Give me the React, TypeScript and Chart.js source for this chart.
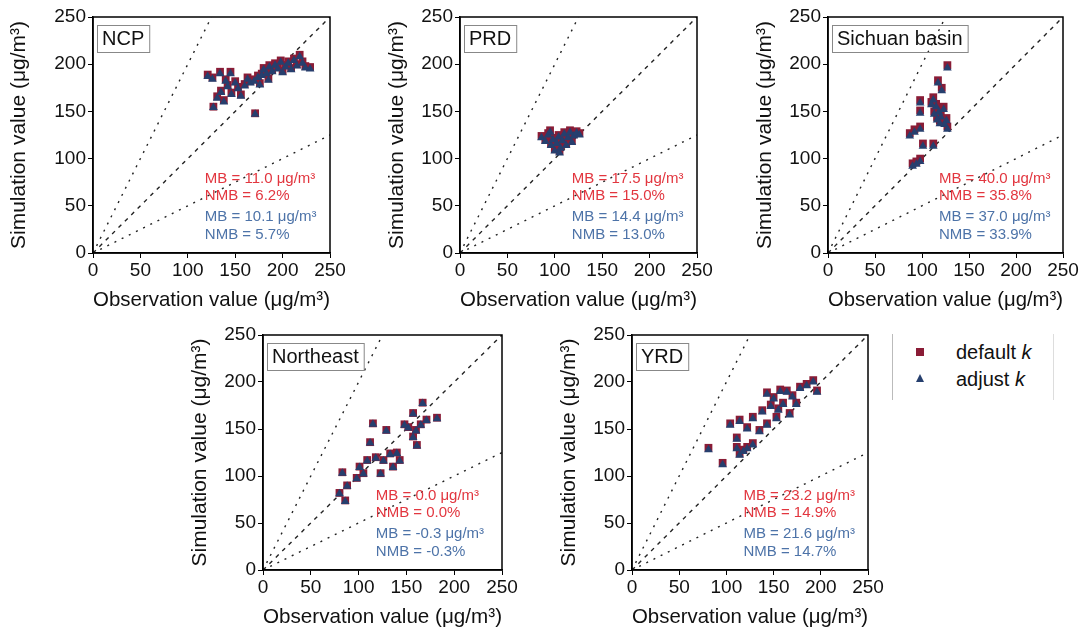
import React, { useEffect, useRef } from "react";
import { Chart, registerables } from "chart.js";

Chart.register(...registerables);

const FONT = '"Liberation Sans", Arial, Helvetica, sans-serif';
const AXIS_MIN = 0;
const AXIS_MAX = 250;
const AXIS_STEP = 50;
const X_TITLE = "Observation value (\u03bcg/m\u00b3)";
const Y_TITLE = "Simulation value (\u03bcg/m\u00b3)";
const SERIES_NAMES = ["default k", "adjust k"];
const DEFAULT_COLOR = "#8a1c36";
const ADJUST_COLOR = "#263f6e";
const STAT_RED = "#e2363f";
const STAT_BLUE = "#4d73a8";

// reference lines (y = x, y = 2x, y = 0.5x)
const LINE_1_1 = [{ x: 0, y: 0 }, { x: 250, y: 250 }];
const LINE_2_1 = [{ x: 0, y: 0 }, { x: 125, y: 250 }];
const LINE_1_2 = [{ x: 0, y: 0 }, { x: 250, y: 125 }];

// stats text anchor (data units)
const STAT_X = 118;
const STAT_Y = [79, 61, 38, 19];

// ---------- NCP ----------
const NCP_OBS = [121, 126, 134, 140, 145, 127, 131, 135, 138, 142, 146, 150, 153, 156, 160, 163, 166, 171, 170, 174, 178, 180, 183, 186, 189, 192, 195, 198, 200, 203, 206, 209, 212, 215, 218, 221, 224, 229, 176, 185];
const NCP_DEFAULT = [189, 186, 192, 184, 192, 155, 166, 172, 162, 178, 170, 182, 176, 168, 179, 186, 182, 148, 184, 188, 190, 196, 192, 199, 194, 201, 197, 204, 193, 199, 203, 196, 206, 200, 210, 203, 198, 197, 180, 185];
const NCP_ADJUST = [187, 184, 190, 182, 190, 154, 164, 170, 160, 176, 168, 180, 174, 166, 177, 184, 180, 147, 182, 186, 188, 194, 190, 197, 192, 199, 195, 202, 191, 197, 201, 194, 204, 198, 208, 201, 196, 195, 178, 183];
const NCP_STATS = ["MB = 11.0 \u03bcg/m\u00b3", "NMB = 6.2%", "MB = 10.1 \u03bcg/m\u00b3", "NMB = 5.7%"];

// ---------- PRD ----------
const PRD_OBS = [86, 90, 93, 96, 98, 100, 102, 104, 106, 108, 110, 112, 114, 116, 118, 120, 123, 126, 95, 105];
const PRD_DEFAULT = [124, 120, 127, 116, 122, 110, 118, 125, 113, 121, 128, 116, 124, 130, 119, 126, 129, 127, 130, 108];
const PRD_ADJUST = [122, 118, 125, 114, 120, 108, 116, 123, 111, 119, 126, 114, 122, 128, 117, 124, 127, 125, 128, 106];
const PRD_STATS = ["MB = 17.5 \u03bcg/m\u00b3", "NMB = 15.0%", "MB = 14.4 \u03bcg/m\u00b3", "NMB = 13.0%"];

// ---------- Sichuan basin ----------
const SCB_OBS = [127, 117, 121, 98, 112, 115, 118, 120, 113, 116, 123, 126, 124, 98, 87, 92, 98, 127, 112, 101, 90, 94, 98, 110, 119];
const SCB_DEFAULT = [199, 183, 175, 162, 165, 158, 152, 147, 150, 144, 155, 143, 139, 151, 127, 131, 134, 134, 116, 116, 95, 97, 100, 160, 140];
const SCB_ADJUST = [196, 180, 172, 159, 162, 155, 149, 144, 147, 141, 152, 140, 136, 148, 124, 128, 131, 131, 113, 113, 92, 94, 97, 157, 137];
const SCB_STATS = ["MB = 40.0 \u03bcg/m\u00b3", "NMB = 35.8%", "MB = 37.0 \u03bcg/m\u00b3", "NMB = 33.9%"];

// ---------- Northeast ----------
const NE_OBS = [167, 157, 182, 171, 152, 160, 157, 161, 115, 129, 112, 133, 126, 143, 136, 109, 101, 105, 98, 123, 83, 88, 80, 86, 148, 165, 140, 118];
const NE_DEFAULT = [178, 167, 162, 160, 152, 149, 142, 133, 156, 149, 136, 124, 117, 117, 110, 117, 110, 103, 98, 103, 104, 90, 82, 74, 155, 155, 125, 120];
const NE_ADJUST = [177, 166, 161, 159, 151, 148, 141, 132, 155, 148, 135, 123, 116, 116, 109, 116, 109, 102, 97, 102, 103, 89, 81, 73, 154, 154, 124, 119];
const NE_STATS = ["MB = 0.0 \u03bcg/m\u00b3", "NMB = 0.0%", "MB = -0.3 \u03bcg/m\u00b3", "NMB = -0.3%"];

// ---------- YRD ----------
const YRD_OBS = [192, 196, 178, 164, 143, 150, 160, 174, 167, 153, 143, 128, 114, 104, 122, 135, 111, 111, 122, 114, 128, 81, 96, 185, 170, 157, 147, 138, 118, 155];
const YRD_DEFAULT = [202, 191, 195, 191, 189, 184, 178, 178, 167, 163, 156, 163, 160, 156, 152, 149, 141, 131, 131, 124, 135, 130, 114, 198, 186, 192, 176, 170, 128, 172];
const YRD_ADJUST = [200, 189, 193, 189, 187, 182, 176, 176, 165, 161, 154, 161, 158, 154, 150, 147, 139, 129, 129, 122, 133, 128, 112, 196, 184, 190, 174, 168, 126, 170];
const YRD_STATS = ["MB = 23.2 \u03bcg/m\u00b3", "NMB = 14.9%", "MB = 21.6 \u03bcg/m\u00b3", "NMB = 14.7%"];

type Panel = {
  label: string;
  obs: number[];
  def: number[];
  adj: number[];
  stats: string[];
  plotLeft: number;
  plotTop: number;
  plotW: number;
  plotH: number;
  yAxisW: number;
};

const PANELS: Panel[] = [
  { label: "NCP", obs: NCP_OBS, def: NCP_DEFAULT, adj: NCP_ADJUST, stats: NCP_STATS, plotLeft: 93, plotTop: 17, plotW: 237, plotH: 236, yAxisW: 90 },
  { label: "PRD", obs: PRD_OBS, def: PRD_DEFAULT, adj: PRD_ADJUST, stats: PRD_STATS, plotLeft: 460, plotTop: 17, plotW: 237, plotH: 236, yAxisW: 79 },
  { label: "Sichuan basin", obs: SCB_OBS, def: SCB_DEFAULT, adj: SCB_ADJUST, stats: SCB_STATS, plotLeft: 828, plotTop: 17, plotW: 235, plotH: 236, yAxisW: 79 },
  { label: "Northeast", obs: NE_OBS, def: NE_DEFAULT, adj: NE_ADJUST, stats: NE_STATS, plotLeft: 263, plotTop: 335, plotW: 239, plotH: 235, yAxisW: 79 },
  { label: "YRD", obs: YRD_OBS, def: YRD_DEFAULT, adj: YRD_ADJUST, stats: YRD_STATS, plotLeft: 632, plotTop: 335, plotW: 236, plotH: 235, yAxisW: 79 },
];

const PAD_TOP = 17;
const PAD_RIGHT = 20;
const X_AXIS_H = 64;

const decorPlugin = {
  id: "panelDecor",
  afterDraw(chart: any, _args: any, opts: any) {
    const { ctx, chartArea, scales } = chart;
    const { left, top, right, bottom } = chartArea;
    ctx.save();
    // frame
    ctx.strokeStyle = "#000";
    ctx.lineWidth = 1.5;
    ctx.strokeRect(left, top, right - left, bottom - top);
    // region label box
    ctx.font = `20px ${FONT}`;
    const w = ctx.measureText(opts.label).width;
    ctx.strokeStyle = "#888";
    ctx.lineWidth = 1;
    ctx.strokeRect(Math.round(left + 4) + 0.5, Math.round(top + 8) + 0.5, w + 10, 27);
    ctx.fillStyle = "#111";
    ctx.textBaseline = "middle";
    ctx.textAlign = "left";
    ctx.fillText(opts.label, left + 9, top + 22.5);
    // stats
    ctx.font = `15px ${FONT}`;
    const sx = scales.x.getPixelForValue(STAT_X);
    (opts.stats as string[]).forEach((t, i) => {
      ctx.fillStyle = i < 2 ? STAT_RED : STAT_BLUE;
      ctx.fillText(t, sx, scales.y.getPixelForValue(STAT_Y[i]));
    });
    ctx.restore();
  },
};

function toPoints(xs: number[], ys: number[]) {
  return xs.map((x, i) => ({ x, y: ys[i] }));
}

function PanelChart({ p }: { p: Panel }) {
  const ref = useRef<HTMLCanvasElement | null>(null);
  const cw = p.yAxisW + p.plotW + PAD_RIGHT;
  const ch = PAD_TOP + p.plotH + X_AXIS_H;
  useEffect(() => {
    if (!ref.current) return;
    const lineDs = (data: any[], dash: number[]) => ({
      type: "line" as const,
      data,
      showLine: true,
      borderColor: "#222",
      borderWidth: 1.4,
      borderDash: dash,
      pointRadius: 0,
      fill: false,
      order: 3,
    });
    const axis = (title: string, horizontal: boolean) => ({
      type: "linear" as const,
      min: AXIS_MIN,
      max: AXIS_MAX,
      ticks: {
        stepSize: AXIS_STEP,
        color: "#111",
        font: { family: FONT, size: 19 },
        padding: horizontal ? 1 : 2,
        maxRotation: 0,
        autoSkip: false,
      },
      grid: { drawOnChartArea: false, drawTicks: true, tickLength: 5, color: "#000" },
      border: { display: true, color: "#000", width: 1.5 },
      title: { display: true, text: title, color: "#111", font: { family: FONT, size: 21 }, padding: { top: 4, bottom: 4 } },
      afterFit: (s: any) => {
        if (horizontal) s.height = X_AXIS_H;
        else s.width = p.yAxisW;
      },
    });
    const chart = new Chart(ref.current, {
      type: "scatter",
      data: {
        datasets: [
          lineDs(LINE_1_1, [4, 5]),
          lineDs(LINE_2_1, [2, 6]),
          lineDs(LINE_1_2, [2, 6]),
          {
            label: SERIES_NAMES[0],
            data: toPoints(p.obs, p.def),
            pointStyle: "rect",
            pointRadius: 5.5,
            backgroundColor: DEFAULT_COLOR,
            borderColor: DEFAULT_COLOR,
            borderWidth: 0,
            order: 2,
          },
          {
            label: SERIES_NAMES[1],
            data: toPoints(p.obs, p.adj),
            pointStyle: "triangle",
            pointRadius: 5,
            backgroundColor: ADJUST_COLOR,
            borderColor: ADJUST_COLOR,
            borderWidth: 0,
            order: 1,
          },
        ] as any,
      },
      options: {
        responsive: false,
        animation: false,
        devicePixelRatio: 1,
        layout: { padding: { top: PAD_TOP, right: PAD_RIGHT, left: 0, bottom: 0 } },
        plugins: {
          legend: { display: false },
          tooltip: { enabled: false },
          panelDecor: { label: p.label, stats: p.stats },
        } as any,
        scales: {
          x: axis(X_TITLE, true),
          y: axis(Y_TITLE, false),
        } as any,
      },
      plugins: [decorPlugin as any],
    });
    return () => chart.destroy();
  }, []);
  return (
    <canvas
      ref={ref}
      width={cw}
      height={ch}
      style={{
        position: "absolute",
        left: p.plotLeft - p.yAxisW,
        top: p.plotTop - PAD_TOP,
        width: cw,
        height: ch,
      }}
    />
  );
}

function Legend() {
  return (
    <div
      style={{
        position: "absolute",
        left: 892,
        top: 334,
        width: 160,
        height: 66,
        borderLeft: "1.5px solid #bbb",
        borderRight: "1.5px solid #ddd",
        fontFamily: FONT,
        fontSize: 20,
        color: "#111",
      }}
    >
      <div style={{ position: "absolute", left: 23, top: 14, width: 8, height: 8, background: DEFAULT_COLOR }} />
      <div style={{ position: "absolute", left: 63, top: 6, lineHeight: "24px" }}>
        default <i>k</i>
      </div>
      <div
        style={{
          position: "absolute",
          left: 23,
          top: 40,
          width: 0,
          height: 0,
          borderLeft: "4.5px solid transparent",
          borderRight: "4.5px solid transparent",
          borderBottom: `8px solid ${ADJUST_COLOR}`,
        }}
      />
      <div style={{ position: "absolute", left: 63, top: 33, lineHeight: "24px" }}>
        adjust <i>k</i>
      </div>
    </div>
  );
}

export default function App() {
  return (
    <div style={{ position: "absolute", left: 0, top: 0, width: 1087, height: 639, background: "#fff", overflow: "hidden" }}>
      {PANELS.map((p) => (
        <PanelChart key={p.label} p={p} />
      ))}
      <Legend />
    </div>
  );
}
